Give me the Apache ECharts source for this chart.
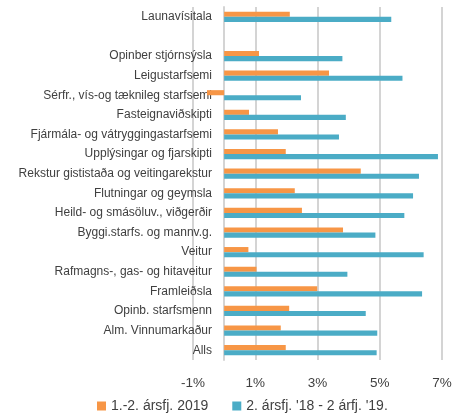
<!DOCTYPE html>
<html>
<head>
<meta charset="utf-8">
<script src="https://cdn.jsdelivr.net/npm/echarts@6/dist/echarts.min.js"></script>
<style>
html, body { margin: 0; padding: 0; background: #fff; }
#main { width: 458px; height: 414px; }
</style>
</head>
<body>
<div id="main"></div>
<script>
// flokkar, ofan frá og niður
var categories = ['Launavísitala', '', 'Opinber stjórnsýsla', 'Leigustarfsemi',
    'Sérfr., vís-og tæknileg starfsemi', 'Fasteignaviðskipti',
    'Fjármála- og vátryggingastarfsemi', 'Upplýsingar og fjarskipti',
    'Rekstur gististaða og veitingarekstur', 'Flutningar og geymsla',
    'Heild- og smásöluv., viðgerðir', 'Byggi.starfs. og mannv.g.', 'Veitur',
    'Rafmagns-, gas- og hitaveitur', 'Framleiðsla', 'Opinb. starfsmenn',
    'Alm. Vinnumarkaður', 'Alls'];
var seriesNames = ['1.-2. ársfj. 2019', "2. ársfj. '18 - 2 árfj. '19."];
var halfYear = [2.11, null, 1.12, 3.37, -0.55, 0.80, 1.73, 1.98, 4.39, 2.27, 2.50, 3.82, 0.78, 1.04, 2.99, 2.09, 1.82, 1.98];
var twelveMonths = [5.37, null, 3.80, 5.73, 2.47, 3.91, 3.69, 6.87, 6.26, 6.07, 5.79, 4.86, 6.41, 3.96, 6.36, 4.55, 4.92, 4.90];
var xTicks = [-1, 1, 3, 5, 7];

var dom = document.getElementById('main');
var myChart = echarts.init(dom);
var txt = '#404040';
var font = 'Liberation Sans';

var option = {
    backgroundColor: '#ffffff',
    animation: false,
    grid: { left: 193, right: 16, top: 7, bottom: 54, outerBoundsMode: 'none', containLabel: false },
    legend: {
        top: 394,
        left: 92,
        itemWidth: 9,
        itemHeight: 9,
        itemGap: 24,
        icon: 'rect',
        textStyle: { color: txt, fontSize: 14, fontFamily: font },
        data: seriesNames
    },
    xAxis: {
        type: 'value',
        min: xTicks[0],
        max: xTicks[xTicks.length - 1],
        interval: 2,
        axisLine: { show: false },
        axisTick: { show: false },
        axisLabel: { color: txt, fontSize: 13.5, fontFamily: font, margin: 16, formatter: '{value}%' },
        splitLine: { show: true, lineStyle: { color: '#d4d4d4', width: 2 } }
    },
    yAxis: {
        type: 'category',
        inverse: true,
        data: categories,
        axisLine: { show: true, onZero: true, lineStyle: { color: '#d4d4d4', width: 2 } },
        axisTick: { show: false },
        axisLabel: { color: txt, fontSize: 12, fontFamily: font, margin: -19, interval: 0 }
    },
    series: [
        {
            name: seriesNames[0],
            type: 'bar',
            data: halfYear,
            itemStyle: { color: '#f79646' },
            barGap: '0%',
            barCategoryGap: '48%'
        },
        {
            name: seriesNames[1],
            type: 'bar',
            data: twelveMonths,
            itemStyle: { color: '#4bacc6' },
            barGap: '0%',
            barCategoryGap: '48%'
        }
    ]
};
myChart.setOption(option);
</script>
</body>
</html>
